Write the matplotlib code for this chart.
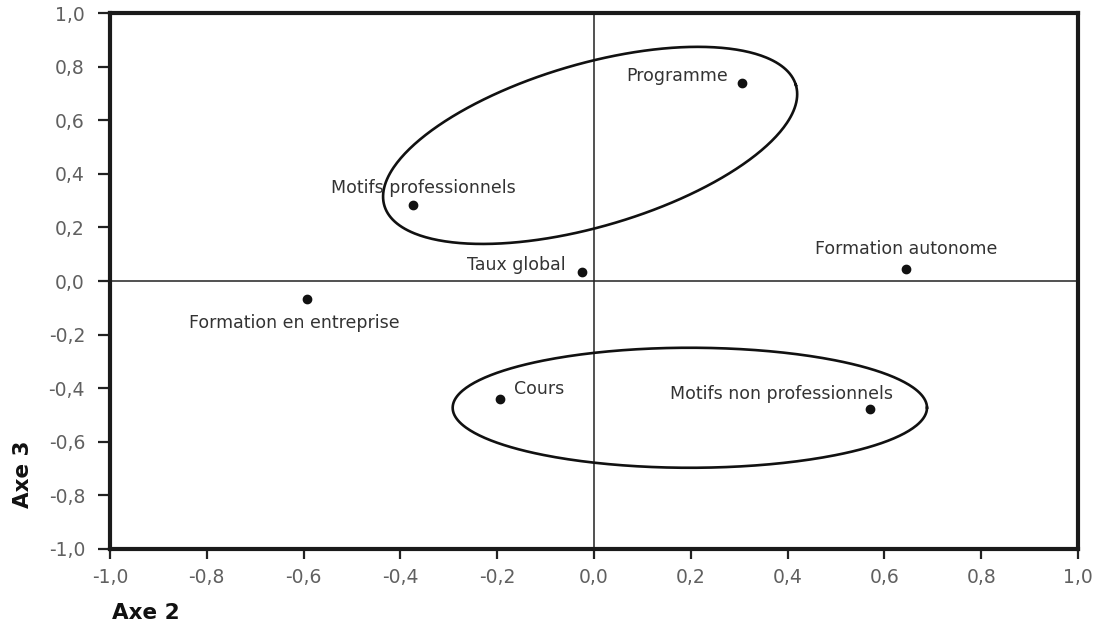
import numpy as np
import matplotlib
matplotlib.use("Agg")
import matplotlib.pyplot as plt

# coordinates of the modalities on axes 2 and 3
labels = ["Programme", "Motifs professionnels", "Taux global", "Formation autonome",
          "Formation en entreprise", "Cours", "Motifs non professionnels"]
axe2 = [0.305, -0.373, -0.024, 0.644, -0.593, -0.195, 0.570]
axe3 = [0.739, 0.284, 0.034, 0.045, -0.067, -0.440, -0.478]

# groups circled on the chart: centre (axe 2, axe 3), semi-axes and tilt on screen
groups_centre = [(-0.008, 0.506), (0.198, -0.473)]
groups_axes = [(0.443, 0.168), (0.490, 0.124)]
groups_tilt = [16.3, 0.0]

ticks = np.arange(-1.0, 1.01, 0.2)
tick_labels = ["-1,0", "-0,8", "-0,6", "-0,4", "-0,2", "0,0", "0,2", "0,4", "0,6", "0,8", "1,0"]

# label placement (offset in points, alignment)
label_offsets = [(-10, 5, "right"), (7, 12, "center"), (-12, 5, "right"), (0, 14, "center"),
                 (-9, -17, "center"), (10, 7, "left"), (17, 11, "right")]

W, H = 11, 6.25
fig = plt.figure(figsize=(W, H), dpi=100)
ax = fig.add_axes([0.1, 0.1216, 0.88, 0.8576])

ax.set_xlim(-1, 1)
ax.set_ylim(-1, 1)

ax.axhline(0, color="#222222", lw=1.1, zorder=1)
ax.axvline(0, color="#222222", lw=1.1, zorder=1)

# y units per x unit on screen
k = (W * 0.88) / (H * 0.8576)
t = np.linspace(0, 2 * np.pi, 400)
for (cx, cy), (a, b), ang in zip(groups_centre, groups_axes, groups_tilt):
    th = np.radians(ang)
    ex = cx + a * np.cos(t) * np.cos(th) - b * np.sin(t) * np.sin(th)
    ey = cy + (a * np.cos(t) * np.sin(th) + b * np.sin(t) * np.cos(th)) * k
    ax.plot(ex, ey, color="#111111", lw=1.9, zorder=2)

ax.plot(axe2, axe3, "o", color="#111111", ms=6, zorder=3)

for name, x, y, (dx, dy, ha) in zip(labels, axe2, axe3, label_offsets):
    ax.annotate(name, (x, y), xytext=(dx, dy), textcoords="offset points",
                ha=ha, va="center", fontsize=12.5, color="#333333")

ax.set_xticks(ticks)
ax.set_xticklabels(tick_labels)
ax.set_yticks(ticks)
ax.set_yticklabels(tick_labels)
ax.tick_params(axis="both", direction="out", width=1.6, color="#222222",
               labelsize=13.5, labelcolor="#606060")
ax.tick_params(axis="x", length=7, pad=7)
ax.tick_params(axis="y", length=9, pad=9)

for s in ax.spines.values():
    s.set_linewidth(3)
    s.set_color("#1a1a1a")

fig.text(0.102, 0.019, "Axe 2", fontsize=15.5, fontweight="bold", color="#111111",
         ha="left", va="center")
fig.text(0.021, 0.2416, "Axe 3", fontsize=15.5, fontweight="bold", color="#111111",
         ha="center", va="center", rotation=90)

fig.savefig("out.png", dpi=100)
